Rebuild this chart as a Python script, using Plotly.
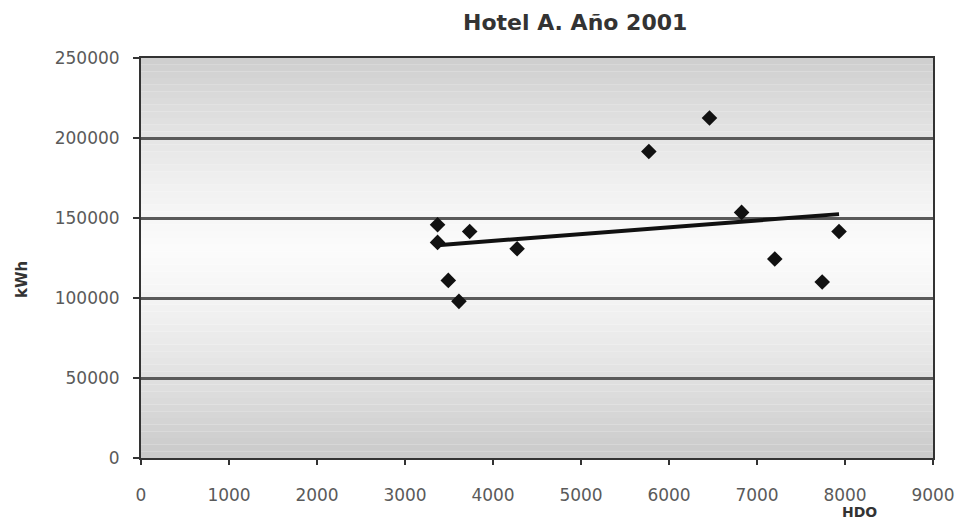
import numpy as np
import plotly.graph_objects as go

# Data
hdo = [3370, 3370, 3492, 3613, 3735, 4274, 5771, 6460, 6825, 7202, 7741, 7932]
kwh = [145800, 134750, 111000, 97900, 141600, 130800, 191600, 212500, 153500, 124400, 110000, 141600]

x_ticks = [0, 1000, 2000, 3000, 4000, 5000, 6000, 7000, 8000, 9000]
y_ticks = [0, 50000, 100000, 150000, 200000, 250000]

title_text = "Hotel A. Año 2001"
x_title = "HDO"
y_title = "kWh"

# Linear trendline (least squares)
slope, intercept = np.polyfit(hdo, kwh, 1)
tx = [min(hdo), max(hdo)]
ty = [slope * v + intercept for v in tx]

fig = go.Figure()
fig.add_trace(go.Scatter(x=tx, y=ty, mode="lines",
                         line=dict(color="#111111", width=4),
                         showlegend=False, hoverinfo="skip"))
fig.add_trace(go.Scatter(x=hdo, y=kwh, mode="markers",
                         marker=dict(symbol="diamond", size=12, color="#111111"),
                         showlegend=False))

# gradient background using horizontal bands
shapes = []
n = 60
for i in range(n):
    t0 = i / n
    t1 = (i + 1) / n
    tm = (t0 + t1) / 2
    d = abs(tm - 0.52) / 0.52
    L = int(round(251 - 50 * d ** 1.3))
    col = f"rgb({L},{L},{L})"
    shapes.append(dict(type="rect", xref="x domain", yref="y domain",
                       x0=0, x1=1, y0=t0, y1=t1, fillcolor=col,
                       line=dict(width=0), layer="below"))

tick_font = dict(family="DejaVu Sans", size=17, color="#5a5a5a")

fig.update_layout(
    width=963, height=521,
    margin=dict(l=141, r=30, t=58, b=63),
    paper_bgcolor="white",
    plot_bgcolor="white",
    shapes=shapes,
    xaxis=dict(range=[0, 9000], tickvals=x_ticks, ticktext=[str(v) for v in x_ticks],
               showgrid=False, zeroline=False, showline=True, linecolor="#333333",
               linewidth=2, mirror=True, ticks="outside", ticklen=5, tickwidth=1.5,
               tickcolor="#333333", tickfont=tick_font, ticklabelstandoff=16,
               automargin=False),
    yaxis=dict(range=[0, 250000], tickvals=y_ticks, ticktext=[str(v) for v in y_ticks],
               showgrid=True, gridcolor="#5a5a5a", gridwidth=2.5, zeroline=False,
               showline=True, linecolor="#333333", linewidth=2, mirror=True,
               ticks="outside", ticklen=6, tickwidth=1.5, tickcolor="#333333",
               tickfont=tick_font, ticklabelstandoff=10, automargin=False),
    annotations=[
        dict(text="<b>" + title_text + "</b>", xref="paper", yref="paper",
             x=(575 - 141) / 792, y=1, yshift=36, xanchor="center", yanchor="middle",
             showarrow=False,
             font=dict(family="DejaVu Sans", size=22, color="#333333")),
        dict(text="<b>" + y_title + "</b>", xref="paper", yref="paper",
             x=0, xshift=-119, y=0.445, xanchor="center", yanchor="middle",
             textangle=-90, showarrow=False,
             font=dict(family="DejaVu Sans", size=15, color="#333333")),
        dict(text="<b>" + x_title + "</b>", xref="paper", yref="paper",
             x=(859 - 141) / 792, y=0, yshift=-54, xanchor="center", yanchor="middle",
             showarrow=False,
             font=dict(family="DejaVu Sans", size=14, color="#333333")),
    ],
)

fig.write_html("out.html", config={"displayModeBar": False},
               post_script="document.body.style.margin='0';")
